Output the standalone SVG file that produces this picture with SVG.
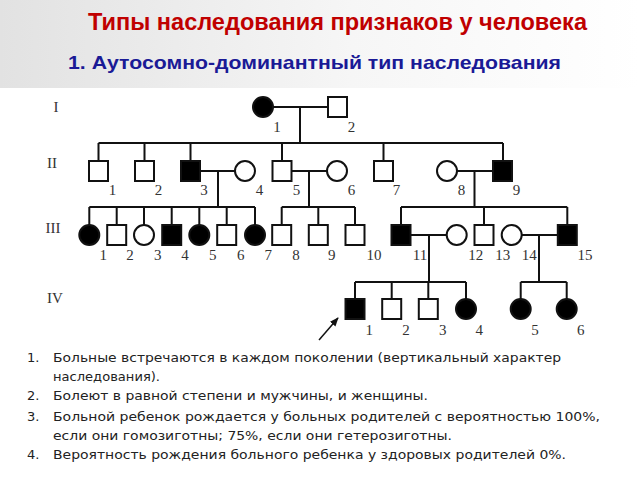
<svg xmlns="http://www.w3.org/2000/svg" width="640" height="480" viewBox="0 0 640 480">
<defs>
<linearGradient id="hdr" x1="0" y1="0" x2="1" y2="0">
<stop offset="0" stop-color="#e2e2e2"/>
<stop offset="0.55" stop-color="#f6f6f6"/>
<stop offset="1" stop-color="#ffffff"/>
</linearGradient>
<marker id="ah" viewBox="0 0 10 10" refX="9" refY="5" markerWidth="9" markerHeight="9" markerUnits="userSpaceOnUse" orient="auto">
<path d="M0,1 L10,5 L0,9 z" fill="#111"/>
</marker>
<style>
.ln{stroke:#111;stroke-width:2;fill:none}
.o{fill:#fff;stroke:#111;stroke-width:2}
.f{fill:#000;stroke:#111;stroke-width:2}
.lb{font-family:"Liberation Serif","DejaVu Serif",serif;font-size:15px;fill:#333;text-anchor:middle}
.gen{font-family:"Liberation Serif","DejaVu Serif",serif;font-size:15px;fill:#333;text-anchor:middle}
.tx{font-family:"DejaVu Sans","Liberation Sans",sans-serif;font-size:13px;fill:#222}
</style>
</defs>
<rect x="0" y="0" width="640" height="480" fill="#fff"/>
<rect x="0" y="0" width="640" height="88" fill="url(#hdr)"/>
<text x="88" y="30" font-family="Liberation Sans, Arial, sans-serif" font-size="23" font-weight="bold" fill="#c00000" textLength="499" lengthAdjust="spacingAndGlyphs">Типы наследования признаков у человека</text>
<text x="68" y="69" font-family="Liberation Sans, Arial, sans-serif" font-size="19" font-weight="bold" fill="#1a1a96" textLength="493" lengthAdjust="spacingAndGlyphs">1. Аутосомно-доминантный тип наследования</text>

<g id="gen-labels">
<text class="gen" x="56" y="112">I</text>
<text class="gen" x="52" y="168">II</text>
<text class="gen" x="53" y="233">III</text>
<text class="gen" x="55" y="303">IV</text>
</g>

<g id="connectors">
<path class="ln" d="M273,107 H328 M300,107 V143"/>
<path class="ln" d="M98.5,143 H503 M98.5,143 V161 M144.5,143 V161 M190.5,143 V161 M282,143 V161 M383.5,143 V161 M503,143 V161"/>
<path class="ln" d="M200.5,171 H235 M218,171 V207"/>
<path class="ln" d="M292,171 H327 M309,171 V207"/>
<path class="ln" d="M457,171 H492.5 M474.5,171 V207"/>
<path class="ln" d="M89.3,207 H255 M89.3,207 V225 M116.7,207 V225 M144,207 V225 M171.7,207 V225 M199.3,207 V225 M226.7,207 V225 M255,207 V225"/>
<path class="ln" d="M281.7,207 H355 M281.7,207 V225 M318.3,207 V225 M355,207 V225"/>
<path class="ln" d="M401,207 H567.3 M401,207 V225 M484,207 V225 M567.3,207 V225"/>
<path class="ln" d="M411,235 H446.7 M429,235 V282"/>
<path class="ln" d="M521.7,235 H557.3 M539,235 V282"/>
<path class="ln" d="M355,282 H466 M355,282 V299 M391.7,282 V299 M428.3,282 V299 M466,282 V299"/>
<path class="ln" d="M520.7,282 H566.7 M520.7,282 V299 M566.7,282 V299"/>
<line x1="319" y1="340" x2="338" y2="318" stroke="#111" stroke-width="1.5" marker-end="url(#ah)"/>
</g>

<g id="I-1"><circle class="f" cx="263" cy="107" r="10"/><text class="lb" x="277" y="131.5">1</text></g>
<g id="I-2"><rect class="o" x="328" y="97" width="19" height="20"/><text class="lb" x="351.5" y="131.5">2</text></g>

<g id="II-1"><rect class="o" x="89" y="161" width="19" height="20"/><text class="lb" x="112.5" y="194.5">1</text></g>
<g id="II-2"><rect class="o" x="135" y="161" width="19" height="20"/><text class="lb" x="158.5" y="194.5">2</text></g>
<g id="II-3"><rect class="f" x="181" y="161" width="19" height="20"/><text class="lb" x="204" y="194.5">3</text></g>
<g id="II-4"><circle class="o" cx="245" cy="171" r="10"/><text class="lb" x="259.5" y="194.5">4</text></g>
<g id="II-5"><rect class="o" x="272.5" y="161" width="19" height="20"/><text class="lb" x="296.5" y="194.5">5</text></g>
<g id="II-6"><circle class="o" cx="337" cy="171" r="10"/><text class="lb" x="351.5" y="194.5">6</text></g>
<g id="II-7"><rect class="o" x="374" y="161" width="19" height="20"/><text class="lb" x="396.5" y="194.5">7</text></g>
<g id="II-8"><circle class="o" cx="447" cy="171" r="10"/><text class="lb" x="461.5" y="194.5">8</text></g>
<g id="II-9"><rect class="f" x="493" y="161" width="19" height="20"/><text class="lb" x="516.5" y="194.5">9</text></g>

<g id="III-1"><circle class="f" cx="89.3" cy="235" r="10"/><text class="lb" x="103.3" y="260">1</text></g>
<g id="III-2"><rect class="o" x="107.2" y="225" width="19" height="20"/><text class="lb" x="130" y="260">2</text></g>
<g id="III-3"><circle class="o" cx="144" cy="235" r="10"/><text class="lb" x="157.7" y="260">3</text></g>
<g id="III-4"><rect class="f" x="162.2" y="225" width="19" height="20"/><text class="lb" x="185" y="260">4</text></g>
<g id="III-5"><circle class="f" cx="199.3" cy="235" r="10"/><text class="lb" x="212.7" y="260">5</text></g>
<g id="III-6"><rect class="o" x="217.2" y="225" width="19" height="20"/><text class="lb" x="240.7" y="260">6</text></g>
<g id="III-7"><circle class="f" cx="255" cy="235" r="10"/><text class="lb" x="268.3" y="260">7</text></g>
<g id="III-8"><rect class="o" x="272.2" y="225" width="19" height="20"/><text class="lb" x="296" y="260">8</text></g>
<g id="III-9"><rect class="o" x="308.8" y="225" width="19" height="20"/><text class="lb" x="331.7" y="260">9</text></g>
<g id="III-10"><rect class="o" x="345.5" y="225" width="19" height="20"/><text class="lb" x="374" y="260">10</text></g>
<g id="III-11"><rect class="f" x="391.5" y="225" width="19" height="20"/><text class="lb" x="420" y="260">11</text></g>
<g id="III-12"><circle class="o" cx="456.7" cy="235" r="10"/><text class="lb" x="475.7" y="260">12</text></g>
<g id="III-13"><rect class="o" x="474.5" y="225" width="19" height="20"/><text class="lb" x="502.7" y="260">13</text></g>
<g id="III-14"><circle class="o" cx="511.7" cy="235" r="10"/><text class="lb" x="529.3" y="260">14</text></g>
<g id="III-15"><rect class="f" x="557.8" y="225" width="19" height="20"/><text class="lb" x="585" y="260">15</text></g>

<g id="IV-1"><rect class="f" x="345.5" y="299" width="19" height="20"/><text class="lb" x="369.3" y="334.5">1</text></g>
<g id="IV-2"><rect class="o" x="382.2" y="299" width="19" height="20"/><text class="lb" x="406" y="334.5">2</text></g>
<g id="IV-3"><rect class="o" x="418.8" y="299" width="19" height="20"/><text class="lb" x="442.7" y="334.5">3</text></g>
<g id="IV-4"><circle class="f" cx="466" cy="309" r="10"/><text class="lb" x="479.3" y="334.5">4</text></g>
<g id="IV-5"><circle class="f" cx="520.7" cy="309" r="10"/><text class="lb" x="535" y="334.5">5</text></g>
<g id="IV-6"><circle class="f" cx="566.7" cy="309" r="10"/><text class="lb" x="580.7" y="334.5">6</text></g>

<g id="notes">
<text class="tx" x="27" y="362">1.</text>
<text class="tx" x="53" y="362" textLength="508" lengthAdjust="spacingAndGlyphs">Больные встречаются в каждом поколении (вертикальный характер</text>
<text class="tx" x="53" y="381" textLength="107" lengthAdjust="spacingAndGlyphs">наследования).</text>
<text class="tx" x="27" y="400">2.</text>
<text class="tx" x="53" y="400" textLength="375" lengthAdjust="spacingAndGlyphs">Болеют в равной степени и мужчины, и женщины.</text>
<text class="tx" x="27" y="421">3.</text>
<text class="tx" x="53" y="421" textLength="547" lengthAdjust="spacingAndGlyphs">Больной ребенок рождается у больных родителей с вероятностью 100%,</text>
<text class="tx" x="53" y="440" textLength="399" lengthAdjust="spacingAndGlyphs">если они гомозиготны; 75%, если они гетерозиготны.</text>
<text class="tx" x="27" y="459">4.</text>
<text class="tx" x="53" y="459" textLength="513" lengthAdjust="spacingAndGlyphs">Вероятность рождения больного ребенка у здоровых родителей 0%.</text>
</g>
</svg>
